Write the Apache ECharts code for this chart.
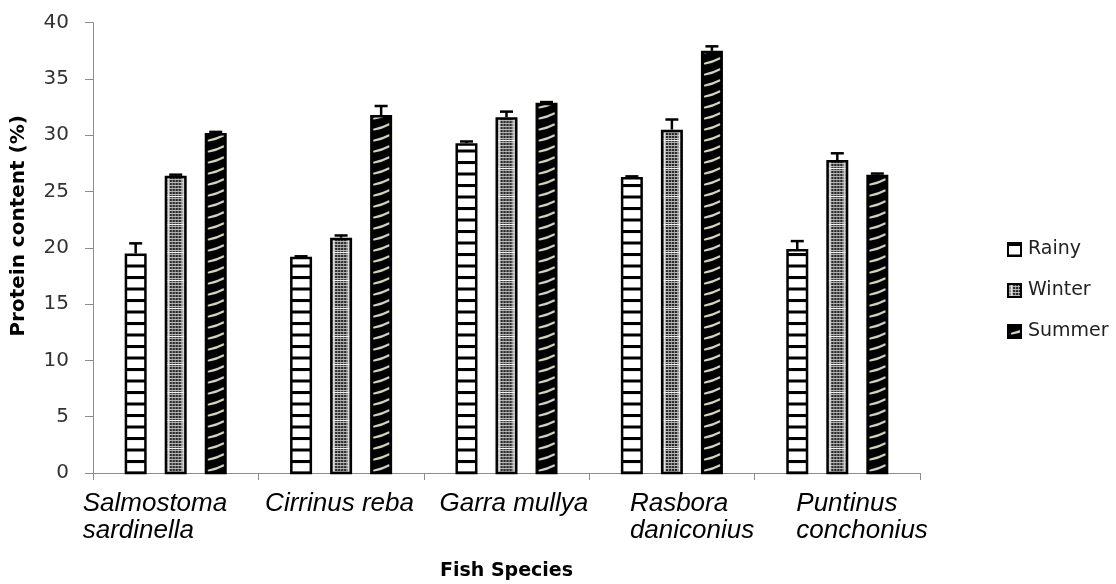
<!DOCTYPE html>
<html>
<head>
<meta charset="utf-8">
<script src="https://cdn.jsdelivr.net/npm/echarts@6/dist/echarts.min.js"></script>
<style>html,body{margin:0;padding:0;background:#fff;}#c{width:1116px;height:584px;}</style>
</head>
<body>
<div id="c"></div>
<script>
const categories = ['Salmostoma\nsardinella', 'Cirrinus reba', 'Garra mullya', 'Rasbora\ndaniconius', 'Puntinus\nconchonius'];
const seriesNames = ['Rainy', 'Winter', 'Summer'];
const rainy  = [19.5, 19.2, 29.3, 26.3, 19.9];
const winter = [26.4, 20.9, 31.6, 30.5, 27.8];
const summer = [30.2, 31.8, 32.9, 37.5, 26.5];
const rainyErr  = [0.9, 0.05, 0.15, 0.05, 0.7];
const winterErr = [0.1, 0.2, 0.5, 0.9, 0.6];
const summerErr = [0.1, 0.8, 0.05, 0.4, 0.1];
const yMin = 0, yMax = 40, yInterval = 5;

// ---- fill patterns (styles) ----
function tile(w, h, draw) { const c = document.createElement('canvas'); c.width = w; c.height = h; draw(c.getContext('2d')); return c; }
const rainyPat = tile(22, 23, g => {
  g.fillStyle = '#fff'; g.fillRect(0, 0, 22, 23);
  g.fillStyle = '#000'; g.fillRect(0, 0, 22, 3); g.fillRect(0, 11.5, 22, 3);
});
const winterPat = tile(22, 28, g => {
  g.fillStyle = '#8e8e8e'; g.fillRect(0, 0, 22, 28);
  for (let y = 0; y < 28; y += 3) {
    g.fillStyle = '#b8b8b8'; g.fillRect(0, y + 2, 22, 1);
    g.fillStyle = '#2a2a2a';
    for (let x = 5; x < 18; x += 3) g.fillRect(x, y, 2, 2);
  }
  g.fillStyle = '#e4e4e4'; g.fillRect(3, 0, 1.5, 28); g.fillRect(17.5, 0, 1.5, 28);
  g.fillStyle = '#f0f0f0'; g.fillRect(0, 0, 22, 1);
});
const summerPat = tile(22, 11, g => {
  g.fillStyle = '#000'; g.fillRect(0, 0, 22, 11);
  g.strokeStyle = '#d4d4c0'; g.lineWidth = 2.2; g.lineCap = 'round';
  g.beginPath(); g.moveTo(4, 8.5); g.quadraticCurveTo(12, 7, 18.5, 3.5); g.stroke();
});
const patterns = [rainyPat, winterPat, summerPat];

const values = [rainy, winter, summer];
const errs = [rainyErr, winterErr, summerErr];
const BAR_RATIO = 0.133, GAP_RATIO = 0.109, LW = 2.5;

function makeRender(k) {
  return function (params, api) {
    const i = api.value(0), v = api.value(1), e = api.value(2);
    const band = api.size([1, 0])[0];
    const c = api.coord([i, v]);
    const base = api.coord([i, 0]);
    const bw = band * BAR_RATIO, gap = band * GAP_RATIO;
    const left = c[0] - (3 * bw + 2 * gap) / 2 + k * (bw + gap);
    const children = [{
      type: 'rect',
      shape: { x: left + LW / 2, y: c[1] + LW / 2, width: bw - LW, height: base[1] - c[1] - LW / 2 },
      style: { fill: { image: patterns[k], repeat: 'repeat', x: left, y: 0 }, stroke: '#000', lineWidth: LW }
    }];
    if (e > 0) {
      const t = api.coord([i, v + e]);
      const cx = left + bw / 2;
      children.push({ type: 'line', shape: { x1: cx, y1: c[1], x2: cx, y2: t[1] }, style: { stroke: '#000', lineWidth: 2.5 } });
      children.push({ type: 'line', shape: { x1: cx - 6.5, y1: t[1], x2: cx + 6.5, y2: t[1] }, style: { stroke: '#000', lineWidth: 2.5 } });
    }
    return { type: 'group', children: children };
  };
}

const labelPads = [[0, 34, 0, 0], [0, 0, 0, 0], [0, 0, 0, 18], [0, 0, 0, 68], [0, 0, 0, 70]];
const rich = {};
labelPads.forEach((p, idx) => {
  rich['c' + idx] = { width: 152, align: 'left', padding: p, fontFamily: '"Liberation Sans", Arial, sans-serif', fontStyle: 'italic', fontSize: 26, lineHeight: 27, color: '#000' };
});

const chart = echarts.init(document.getElementById('c'), null, { renderer: 'canvas' });
chart.setOption({
  animation: false,
  backgroundColor: '#fff',
  grid: { left: 93, right: 196, top: 22.7, bottom: 111, containLabel: false, outerBoundsMode: 'none' },
  legend: {
    orient: 'vertical', left: 1002, top: 235, icon: 'rect', itemWidth: 13, itemHeight: 13, itemGap: 22,
    data: seriesNames,
    textStyle: { fontFamily: '"DejaVu Sans", sans-serif', fontSize: 19, color: '#222', padding: [0, 0, 0, 2] }
  },
  xAxis: {
    type: 'category', data: categories,
    name: 'Fish Species', nameLocation: 'middle', nameGap: 89,
    nameTextStyle: { fontFamily: '"DejaVu Sans", sans-serif', fontWeight: 'bold', fontSize: 19, color: '#000' },
    axisLine: { lineStyle: { color: '#8c8c8c', width: 1 } },
    axisTick: { show: true, length: 7, lineStyle: { color: '#8c8c8c' } },
    axisLabel: {
      interval: 0, margin: 17,
      formatter: function (val, idx) { return val.split('\n').map(l => '{c' + idx + '|' + l + '}').join('\n'); },
      rich: rich
    },
    splitLine: { show: false }
  },
  yAxis: {
    type: 'value', min: yMin, max: yMax, interval: yInterval,
    name: 'Protein content (%)', nameLocation: 'middle', nameGap: 64, nameRotate: 90,
    nameTextStyle: { fontFamily: '"DejaVu Sans", sans-serif', fontWeight: 'bold', fontSize: 20, color: '#000', padding: [0, 0, 0, 44] },
    axisLine: { show: true, lineStyle: { color: '#8c8c8c', width: 1 } },
    axisTick: { show: true, length: 8, lineStyle: { color: '#8c8c8c' } },
    axisLabel: { margin: 24, fontFamily: '"DejaVu Sans", sans-serif', fontSize: 20, color: '#333' },
    splitLine: { show: false }
  },
  series: seriesNames.map((name, k) => ({
    name: name, type: 'custom',
    itemStyle: { color: { image: patterns[k], repeat: 'repeat' }, borderColor: '#000', borderWidth: 2 },
    encode: { x: 0, y: 1 },
    data: categories.map((c, i) => [i, values[k][i], errs[k][i]]),
    renderItem: makeRender(k)
  }))
});
</script>
</body>
</html>
